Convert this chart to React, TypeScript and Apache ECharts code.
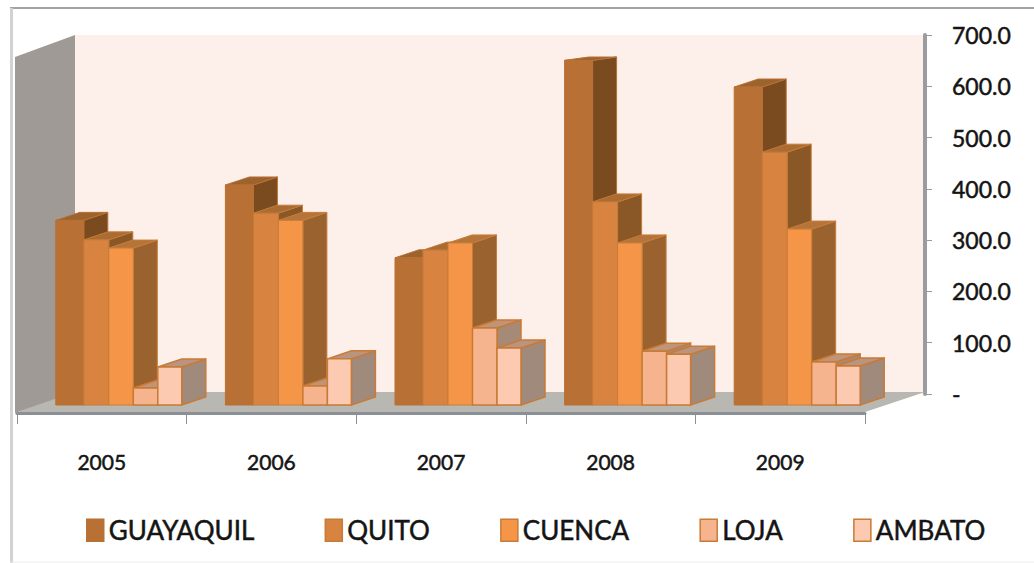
import React, { useEffect, useRef } from "react";
import * as echarts from "echarts";

const years = ["2005", "2006", "2007", "2008", "2009"];
const yTicks = { min: 0, max: 700, step: 100 };

const cityNames = ["GUAYAQUIL", "QUITO", "CUENCA", "LOJA", "AMBATO"];
const guayaquil = [360, 429, 287, 672, 620];
const quito = [322, 374, 302, 396, 493];
const cuenca = [306, 360, 316, 316, 343];
const loja = [33, 37, 150, 105, 84];
const ambato = [74, 90, 111, 99, 76];
const cityValues = [guayaquil, quito, cuenca, loja, ambato];

// Face colours of each prism: front, side, top, outline
const faceColors = [
  ["#b87035", "#7a4b1f", "#9d632c", "#b87035"],
  ["#d88440", "#8a5727", "#aa6c33", "#c47a38"],
  ["#f49548", "#9a622e", "#b5743a", "#c87c38"],
  ["#f6b48e", "#a58a78", "#c09478", "#c97a35"],
  ["#fbcab0", "#a08a7c", "#b99480", "#c97a35"],
];

// Horizontal extent of each prism, measured from the centre of its year's band
const barSpans = [
  [-46, -18],
  [-18, 7],
  [7, 31.5],
  [31.5, 56],
  [56, 80],
];
const FLOOR_LIFT = 8;
const DEPTH_X = 24;
const DEPTH_Y = -8;

const AXIS_GRAY = "#9b9c9e";
const FONT = "Lato";
const INK = "#141414";
// A thin outline thickens the regular weight of the labels
const heavyText = { textBorderColor: INK, textBorderWidth: 0.5 };

function prismRenderer(cityIndex: number) {
  return (_params: any, api: any) => {
    const cat = api.value(0);
    const [cx, yTop] = api.coord([cat, api.value(1)]);
    const [, yBase] = api.coord([cat, 0]);
    const [, yCeiling] = api.coord([cat, yTicks.max]);
    const [front, side, top, outline] = faceColors[cityIndex];
    const x0 = cx + barSpans[cityIndex][0];
    const x1 = cx + barSpans[cityIndex][1];
    const y0 = yTop - FLOOR_LIFT;
    const y1 = yBase - FLOOR_LIFT;
    // The rear edge never rises past the top of the plot box
    const yBack = Math.max(y0 + DEPTH_Y, yCeiling + 3);
    const stroke = { stroke: outline, lineWidth: cityIndex > 2 ? 1.5 : 1 };
    return {
      type: "group",
      children: [
        {
          type: "polygon",
          shape: {
            points: [
              [x1, y0],
              [x1 + DEPTH_X, yBack],
              [x1 + DEPTH_X, y1 + DEPTH_Y],
              [x1, y1],
            ],
          },
          style: { fill: side, ...stroke },
        },
        {
          type: "polygon",
          shape: {
            points: [
              [x0, y0],
              [x0 + DEPTH_X, yBack],
              [x1 + DEPTH_X, yBack],
              [x1, y0],
            ],
          },
          style: { fill: top, ...stroke },
        },
        {
          type: "rect",
          shape: { x: x0, y: y0, width: x1 - x0, height: y1 - y0 },
          style: { fill: front, ...stroke },
        },
      ],
    };
  };
}

export default function App() {
  const ref = useRef<HTMLDivElement>(null);

  useEffect(() => {
    const chart = echarts.init(ref.current!, undefined, { renderer: "svg" });
    chart.setOption({
      animation: false,
      backgroundColor: "#ffffff",
      grid: [
        // Back wall, carries the value axis
        { left: 75, top: 35, width: 850, height: 359, show: true, backgroundColor: "#fdf0eb", borderWidth: 0 },
        // Front plane of the floor, carries the years and the prisms
        { left: 17, top: 54, width: 848, height: 359, show: false },
      ],
      xAxis: [
        { type: "category", gridIndex: 0, data: years, show: false },
        {
          type: "category",
          gridIndex: 1,
          data: years,
          z: 5,
          axisLine: { lineStyle: { color: "#8b9096", width: 3 } },
          axisTick: { show: true, alignWithLabel: false, length: 11, lineStyle: { color: "#8b9096", width: 1 } },
          axisLabel: { margin: 38, fontFamily: FONT, fontSize: 21, color: INK, ...heavyText },
        },
      ],
      yAxis: [
        {
          type: "value",
          gridIndex: 0,
          position: "right",
          min: yTicks.min,
          max: yTicks.max,
          interval: yTicks.step,
          splitLine: { show: false },
          axisLine: { show: true, lineStyle: { color: AXIS_GRAY, width: 4 } },
          axisTick: { show: true, length: 7, lineStyle: { color: AXIS_GRAY, width: 1 } },
          axisLabel: {
            margin: 27,
            align: "left",
            fontFamily: FONT,
            fontSize: 23,
            color: INK,
            ...heavyText,
            formatter: (v: number) => (v === 0 ? "-" : v.toFixed(1)),
          },
        },
        { type: "value", gridIndex: 1, show: false, min: yTicks.min, max: yTicks.max, interval: yTicks.step, splitLine: { show: false } },
      ],
      legend: {
        left: 81,
        top: 512,
        icon: "rect",
        itemWidth: 17,
        itemHeight: 22,
        itemGap: 70,
        textStyle: { fontFamily: FONT, fontSize: 26, color: INK, ...heavyText },
        data: cityNames.map((name, i) => ({
          name,
          itemStyle: { color: faceColors[i][0], borderColor: faceColors[i][3], borderWidth: 1.5 },
        })),
      },
      graphic: [
        // Left wall
        {
          type: "polygon",
          z: 1,
          shape: { points: [[15, 57], [75, 35], [75, 394], [15, 413]] },
          style: { fill: "#a09a96" },
        },
        // Floor
        {
          type: "polygon",
          z: 1,
          shape: { points: [[17, 412], [75, 392], [925, 392], [865, 412]] },
          style: { fill: "#b9b7b2" },
        },
        // Frame round the chart
        { type: "line", z: 1, shape: { x1: 10, y1: 8, x2: 1034, y2: 8 }, style: { stroke: "#a2a2a2", lineWidth: 2 } },
        { type: "line", z: 1, shape: { x1: 11.5, y1: 8, x2: 11.5, y2: 563 }, style: { stroke: "#d2d2d2", lineWidth: 3 } },
        { type: "line", z: 1, shape: { x1: 10, y1: 562, x2: 1034, y2: 562 }, style: { stroke: "#ececec", lineWidth: 1 } },
      ],
      series: cityNames.map((name, i) => ({
        type: "custom",
        name,
        xAxisIndex: 1,
        yAxisIndex: 1,
        encode: { x: 0, y: 1 },
        itemStyle: { color: faceColors[i][0] },
        data: cityValues[i].map((v, cat) => [cat, v]),
        renderItem: prismRenderer(i),
      })),
    });
    return () => chart.dispose();
  }, []);

  return <div ref={ref} style={{ position: "absolute", left: 0, top: 0, width: 1034, height: 563 }} />;
}
